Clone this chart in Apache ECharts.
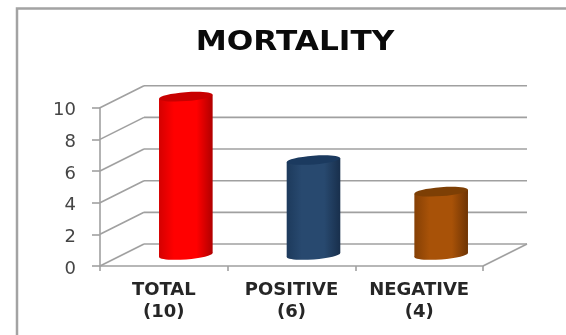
<!DOCTYPE html>
<html>
<head>
<meta charset="utf-8">
<style>html,body{margin:0;padding:0;background:#fff}#chart{width:566px;height:335px}</style>
<script src="https://cdn.jsdelivr.net/npm/echarts@6/dist/echarts.min.js"></script>
</head>
<body>
<div id="chart"></div>
<script>
// Mortality counts, one cylinder per group
const categoryNames = ['TOTAL', 'POSITIVE', 'NEGATIVE'];
const deaths = [10, 6, 4];
const axisTicks = [0, 2, 4, 6, 8, 10];
const chartTitle = 'MORTALITY';

// Cylinder shades: left edge, centre, right edge, lid
const barShades = [
  ['#d40000', '#ff0000', '#b00000', '#c80000'],
  ['#1d3a5c', '#28496f', '#182f4c', '#1b3a5f'],
  ['#854005', '#a85208', '#6e3404', '#7d3f05']
];

const lineColor = '#a0a0a0';
const depth = [44, -22];   // how far the back wall sits from the front plane

const chart = echarts.init(document.getElementById('chart'), null, {renderer: 'canvas'});

// Side wall, back wall and floor edge for one gridline value
function renderWall(params, api) {
  const cs = params.coordSys;
  const v = api.value(0);
  const y = api.coord([0, v])[1];
  const left = cs.x, right = cs.x + cs.width;
  const style = {stroke: lineColor, lineWidth: 1.6, fill: null};
  const parts = [
    {type: 'line', shape: {x1: left, y1: y, x2: left + depth[0], y2: y + depth[1]}, style},
    {type: 'line', shape: {x1: left + depth[0], y1: y + depth[1], x2: right + depth[0], y2: y + depth[1]}, style}
  ];
  if (v === 0) {
    parts.push({type: 'line', shape: {x1: right, y1: y, x2: right + depth[0], y2: y + depth[1]}, style});
  }
  return {type: 'group', children: parts};
}

// A cylinder standing halfway between the front plane and the back wall
function renderCylinder(params, api) {
  const i = api.value(0);
  const top = api.coord([i, api.value(1)]);
  const base = api.coord([i, 0]);
  const cx = top[0] + depth[0] / 2;
  const yTop = top[1] + depth[1] / 2;
  const yBase = base[1] + depth[1] / 2;
  const rx = api.size([1, 0])[0] * 0.21;
  const ry = 4.4;
  const tilt = 0.075;
  const dy = rx * tilt;
  const shades = barShades[i];
  const fill = {
    type: 'linear', x: 0, y: 0, x2: 1, y2: 0,
    colorStops: [
      {offset: 0, color: shades[0]},
      {offset: 0.28, color: shades[1]},
      {offset: 0.7, color: shades[1]},
      {offset: 1, color: shades[2]}
    ]
  };
  return {
    type: 'group',
    children: [
      {type: 'ellipse', x: cx, y: yBase, rotation: tilt, originX: 0, originY: 0,
        shape: {cx: 0, cy: 0, rx: rx, ry: ry}, style: {fill}},
      {type: 'polygon',
        shape: {points: [[cx - rx, yTop + dy], [cx + rx, yTop - dy], [cx + rx, yBase - dy], [cx - rx, yBase + dy]]},
        style: {fill}},
      {type: 'ellipse', x: cx, y: yTop, rotation: tilt, originX: 0, originY: 0,
        shape: {cx: 0, cy: 0, rx: rx, ry: ry}, style: {fill: shades[3]}}
    ]
  };
}

chart.setOption({
  animation: false,
  backgroundColor: '#ffffff',
  graphic: [
    {
      type: 'polyline',
      shape: {points: [[17, 335], [17, 8.5], [566, 8.5]]},
      style: {stroke: '#a3a3a3', lineWidth: 2.5, fill: null}
    },
    {
      type: 'text', x: 295, y: 43, scaleX: 1.2,
      style: {
        text: chartTitle, textAlign: 'center', textVerticalAlign: 'middle',
        font: 'bold 26px "DejaVu Sans"', fill: '#0a0a0a'
      }
    }
  ],
  grid: {left: 100, top: 107.7, width: 383, height: 158.3},
  xAxis: {
    type: 'category',
    data: categoryNames.map((name, i) => name + '\n(' + deaths[i] + ')'),
    axisLine: {lineStyle: {color: lineColor, width: 1.6}},
    axisTick: {show: true, length: 5, lineStyle: {color: lineColor, width: 1.6}},
    axisLabel: {
      fontFamily: 'DejaVu Sans', fontWeight: 'bold', fontSize: 18, color: '#262626',
      lineHeight: 22, margin: 13, interval: 0
    }
  },
  yAxis: {
    type: 'value', min: 0, max: 10, interval: 2,
    axisLine: {show: true, lineStyle: {color: lineColor, width: 1.6}},
    axisTick: {show: true, length: 8, lineStyle: {color: lineColor, width: 1.6}},
    splitLine: {show: false},
    axisLabel: {
      fontFamily: 'DejaVu Sans', fontSize: 18, color: '#454545', margin: 24,
      verticalAlign: 'top', lineHeight: 6
    }
  },
  series: [
    {type: 'custom', renderItem: renderWall, data: axisTicks.map(v => [v]), clip: false, z: 1,
      encode: {y: 0}, silent: true},
    {type: 'custom', renderItem: renderCylinder, data: deaths.map((v, i) => [i, v]), clip: false, z: 3,
      encode: {x: 0, y: 1}}
  ]
});
</script>
</body>
</html>
